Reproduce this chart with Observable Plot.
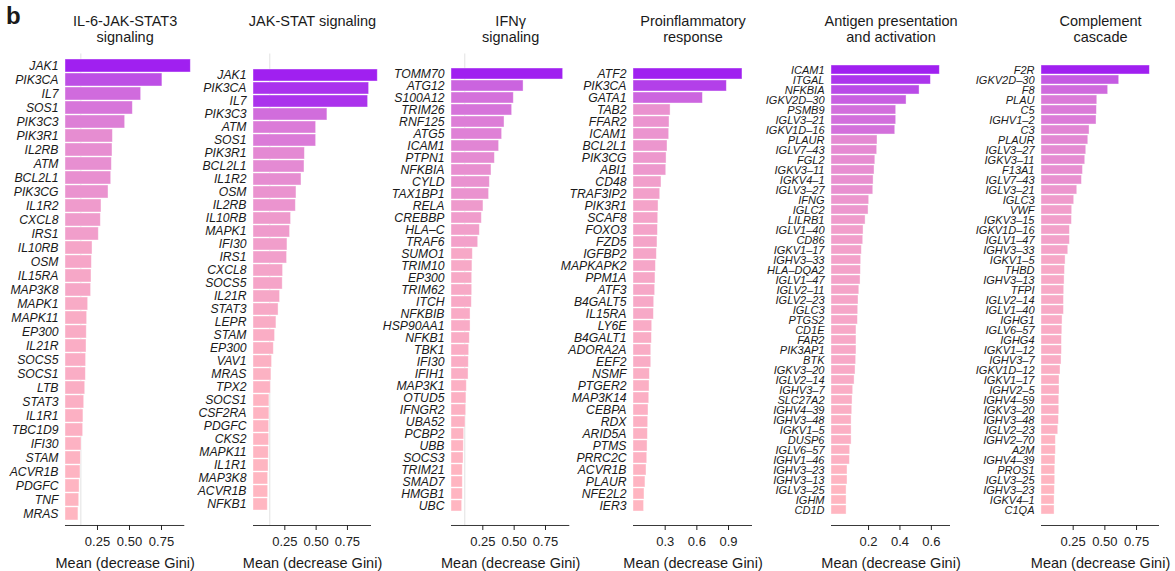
<!DOCTYPE html>
<html>
<head>
<meta charset="utf-8">
<script src="https://cdn.jsdelivr.net/npm/d3@7"></script>
<script src="https://cdn.jsdelivr.net/npm/@observablehq/plot@0.6"></script>
<style>
  body { margin: 0; background: #fff; }
  #fig { position: relative; width: 1175px; height: 571px; overflow: hidden;
         font-family: "Liberation Sans", Arial, sans-serif; color: #1a1a1a; }
  #fig svg { position: absolute; top: 0; overflow: visible; background: none; max-width: none; }
  #fig svg g[aria-label="y-axis tick label"] { font-size: 12.2px !important; font-style: italic; }
  #fig svg.dense g[aria-label="y-axis tick label"] { font-size: 11px !important; }
  #fig svg g[aria-label="x-axis tick label"] { font-size: 13px !important; }
  #tag { position: absolute; left: 6px; top: 2px; font-weight: bold; font-size: 24px; }
</style>
</head>
<body>
<div id="fig"><div id="tag">b</div></div>
<script>
// Random-forest feature importance (mean decrease in Gini) per pathway gene set

const il6Genes = ["JAK1","PIK3CA","IL7","SOS1","PIK3C3","PIK3R1","IL2RB","ATM","BCL2L1","PIK3CG","IL1R2","CXCL8","IRS1","IL10RB","OSM","IL15RA","MAP3K8","MAPK1","MAPK11","EP300","IL21R","SOCS5","SOCS1","LTB","STAT3","IL1R1","TBC1D9","IFI30","STAM","ACVR1B","PDGFC","TNF","MRAS"];
const il6Values = [0.979,0.757,0.591,0.526,0.466,0.370,0.367,0.362,0.357,0.336,0.281,0.276,0.260,0.211,0.206,0.203,0.200,0.177,0.169,0.166,0.164,0.161,0.159,0.154,0.146,0.140,0.138,0.125,0.120,0.117,0.110,0.107,0.101];

const jakStatGenes = ["JAK1","PIK3CA","IL7","PIK3C3","ATM","SOS1","PIK3R1","BCL2L1","IL1R2","OSM","IL2RB","IL10RB","MAPK1","IFI30","IRS1","CXCL8","SOCS5","IL21R","STAT3","LEPR","STAM","EP300","VAV1","MRAS","TPX2","SOCS1","CSF2RA","PDGFC","CKS2","MAPK11","IL1R1","MAP3K8","ACVR1B","NFKB1"];
const jakStatValues = [0.992,0.923,0.915,0.590,0.500,0.500,0.410,0.407,0.383,0.343,0.338,0.300,0.292,0.271,0.268,0.236,0.233,0.212,0.200,0.183,0.172,0.162,0.148,0.143,0.138,0.127,0.127,0.125,0.125,0.122,0.120,0.117,0.117,0.114];

const ifngGenes = ["TOMM70","ATG12","S100A12","TRIM26","RNF125","ATG5","ICAM1","PTPN1","NFKBIA","CYLD","TAX1BP1","RELA","CREBBP","HLA–C","TRAF6","SUMO1","TRIM10","EP300","TRIM62","ITCH","NFKBIB","HSP90AA1","NFKB1","TBK1","IFI30","IFIH1","MAP3K1","OTUD5","IFNGR2","UBA52","PCBP2","UBB","SOCS3","TRIM21","SMAD7","HMGB1","UBC"];
const ifngValues = [0.891,0.575,0.497,0.484,0.423,0.404,0.380,0.346,0.319,0.306,0.300,0.255,0.242,0.226,0.213,0.170,0.167,0.165,0.165,0.162,0.152,0.152,0.146,0.141,0.138,0.136,0.122,0.119,0.117,0.112,0.101,0.098,0.096,0.090,0.090,0.090,0.085];

const inflamGenes = ["ATF2","PIK3CA","GATA1","TAB2","FFAR2","ICAM1","BCL2L1","PIK3CG","ABI1","CD48","TRAF3IP2","PIK3R1","SCAF8","FOXO3","FZD5","IGFBP2","MAPKAPK2","PPM1A","ATF3","B4GALT5","IL15RA","LY6E","B4GALT1","ADORA2A","EEF2","NSMF","PTGER2","MAP3K14","CEBPA","RDX","ARID5A","PTMS","PRRC2C","ACVR1B","PLAUR","NFE2L2","IER3"];
const inflamValues = [1.032,0.884,0.657,0.351,0.341,0.338,0.322,0.313,0.310,0.265,0.253,0.237,0.234,0.231,0.227,0.221,0.212,0.208,0.205,0.196,0.193,0.177,0.174,0.168,0.168,0.155,0.152,0.149,0.142,0.139,0.136,0.133,0.130,0.123,0.113,0.104,0.100];

const antigenGenes = ["ICAM1","ITGAL","NFKBIA","IGKV2D–30","PSMB9","IGLV3–21","IGKV1D–16","PLAUR","IGLV7–43","FGL2","IGKV3–11","IGKV4–1","IGLV3–27","IFNG","IGLC2","LILRB1","IGLV1–40","CD86","IGKV1–17","IGHV3–33","HLA–DQA2","IGLV1–47","IGLV2–11","IGLV2–23","IGLC3","PTGS2","CD1E","FAR2","PIK3AP1","BTK","IGKV3–20","IGLV2–14","IGHV3–7","SLC27A2","IGHV4–39","IGHV3–48","IGKV1–5","DUSP6","IGLV6–57","IGHV1–46","IGHV3–23","IGHV3–13","IGLV3–25","IGHM","CD1D"];
const antigenValues = [0.654,0.597,0.525,0.442,0.376,0.376,0.370,0.257,0.255,0.243,0.238,0.232,0.230,0.204,0.200,0.181,0.168,0.166,0.157,0.153,0.151,0.149,0.141,0.136,0.134,0.132,0.123,0.123,0.123,0.121,0.117,0.111,0.102,0.098,0.096,0.092,0.092,0.092,0.083,0.081,0.066,0.066,0.060,0.060,0.060];

const complementGenes = ["F2R","IGKV2D–30","F8","PLAU","C5","IGHV1–2","C3","PLAUR","IGLV3–27","IGKV3–11","F13A1","IGLV7–43","IGLV3–21","IGLC3","VWF","IGKV3–15","IGKV1D–16","IGLV1–47","IGHV3–33","IGKV1–5","THBD","IGHV3–13","TFPI","IGLV2–14","IGLV1–40","IGHG1","IGLV6–57","IGHG4","IGKV1–12","IGHV3–7","IGKV1D–12","IGKV1–17","IGHV2–5","IGHV4–59","IGKV3–20","IGHV3–48","IGLV2–23","IGHV2–70","A2M","IGHV4–39","PROS1","IGLV3–25","IGHV3–23","IGKV4–1","C1QA"];
const complementValues = [0.855,0.613,0.526,0.440,0.437,0.434,0.379,0.369,0.353,0.345,0.327,0.319,0.282,0.258,0.242,0.240,0.224,0.224,0.211,0.190,0.185,0.182,0.179,0.177,0.177,0.166,0.164,0.161,0.161,0.158,0.150,0.142,0.142,0.140,0.140,0.137,0.132,0.113,0.113,0.110,0.108,0.108,0.105,0.103,0.103];

const panelTitles = ["IL-6-JAK-STAT3\nsignaling", "JAK-STAT signaling", "IFNγ\nsignaling", "Proinflammatory\nresponse", "Antigen presentation\nand activation", "Complement\ncascade"];
const ticksQuarter = [0.25, 0.5, 0.75];
const ticksTenths3 = [0.3, 0.6, 0.9];
const ticksTenths2 = [0.2, 0.4, 0.6];
const xLabel = "Mean (decrease Gini)";

const panels = [
  {title: panelTitles[0], genes: il6Genes, values: il6Values, ticks: ticksQuarter, format: ".2f", domain: [0, 0.932], guide: 0.12},
  {title: panelTitles[1], genes: jakStatGenes, values: jakStatValues, ticks: ticksQuarter, format: ".2f", domain: [0, 0.942], guide: 0.13},
  {title: panelTitles[2], genes: ifngGenes, values: ifngValues, ticks: ticksQuarter, format: ".2f", domain: [0, 0.944], guide: 0.106},
  {title: panelTitles[3], genes: inflamGenes, values: inflamValues, ticks: ticksTenths3, format: ".1f", domain: [0, 1.127], guide: null},
  {title: panelTitles[4], genes: antigenGenes, values: antigenValues, ticks: ticksTenths2, format: ".1f", domain: [-0.036, 0.722], guide: null},
  {title: panelTitles[5], genes: complementGenes, values: complementValues, ticks: ticksQuarter, format: ".2f", domain: [0, 0.931], guide: null}
];

// horizontal placement of each panel's plotting area in the figure
const panelLeft = [64.7, 252.7, 450.7, 633.3, 831, 1041.3];
const panelRight = [184, 370.7, 569, 752.3, 950, 1159.3];

const fig = document.getElementById("fig");
const fontFamily = '"Liberation Sans", Arial, sans-serif';
const H = 571, marginLeft = 72, marginRight = 14, marginTop = 53.5, marginBottom = 46;

panels.forEach((p, k) => {
  const rows = p.genes.map((gene, i) => ({gene, value: p.values[i]}));
  const base = p.domain[0];
  const w = panelRight[k] - panelLeft[k];
  const marks = [];
  if (p.guide != null) marks.push(Plot.ruleX([p.guide], {stroke: "#e2e2e2", strokeWidth: 1}));
  marks.push(
    Plot.barX(rows, {x1: base, x2: "value", y: "gene", fill: "value",
                     stroke: "#ffffff", strokeOpacity: 0.5, strokeWidth: 0.8}),
    Plot.axisX({ticks: p.ticks, tickFormat: p.format, tickSize: 5, tickPadding: 6,
                fontSize: 13, label: null, color: "#222"}),
    Plot.axisY({tickSize: 0, tickPadding: 7, fontStyle: "italic",
                label: null, color: "#1a1a1a"}),
    Plot.text([p.title], {text: d => d, frameAnchor: "top", dy: -39.5, lineAnchor: "top",
                          fontSize: 14.5, lineHeight: 1.1, fill: "#1a1a1a"}),
    Plot.text([xLabel], {text: d => d, frameAnchor: "bottom", dy: 38, lineAnchor: "middle",
                         fontSize: 14.5, fill: "#1a1a1a"})
  );
  const plot = Plot.plot({
    width: marginLeft + w + marginRight,
    height: H,
    marginLeft, marginRight, marginTop, marginBottom,
    style: {fontFamily, background: "transparent", overflow: "visible"},
    x: {domain: p.domain, label: null},
    y: {domain: p.genes, paddingInner: 0.1, paddingOuter: 0.05, label: null},
    color: {type: "linear", domain: d3.extent(p.values), range: ["#FFB6C1", "#A020F0"], interpolate: "lab"},
    marks
  });
  if (p.genes.length > 40) plot.classList.add("dense");
  // axis line along the bottom of the panel, spanning the x scale's range
  const [xa, xb] = plot.scale("x").range;
  d3.select(plot).append("line")
    .attr("x1", xa).attr("x2", xb)
    .attr("y1", H - marginBottom + 0.5).attr("y2", H - marginBottom + 0.5)
    .attr("stroke", "#222").attr("stroke-width", 0.9);
  plot.style.left = (panelLeft[k] - marginLeft) + "px";
  fig.appendChild(plot);
});
</script>
</body>
</html>
